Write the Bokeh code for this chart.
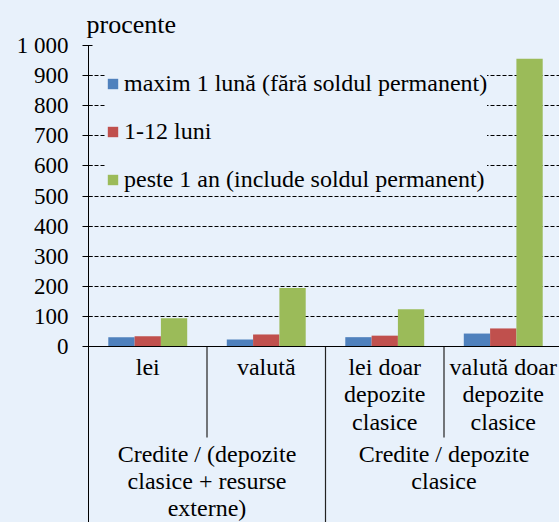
import numpy as np
from bokeh.plotting import figure
from bokeh.models import (Range1d, FixedTicker, Span, Legend, LegendItem,
                          ColumnDataSource, GlobalInlineStyleSheet)
from bokeh.core.properties import value
from bokeh.embed import file_html
from bokeh.resources import INLINE

# ---------------- data ----------------
categories = ["lei", "valută", "lei doar\ndepozite\nclasice", "valută doar\ndepozite\nclasice"]
category_group = [0, 0, 1, 1]
groups = ["Credite / (depozite\nclasice + resurse\nexterne)", "Credite / depozite\nclasice"]
series_names = ["maxim 1 lună (fără soldul permanent)", "1-12 luni",
                "peste 1 an (include soldul permanent)"]
maxim_1_luna = [31, 23, 31, 43]
luni_1_12 = [34, 40, 36, 60]
peste_1_an = [94, 194, 124, 956]
y_ticks = [0, 100, 200, 300, 400, 500, 600, 700, 800, 900, 1000]
y_tick_labels = ["0", "100", "200", "300", "400", "500", "600", "700", "800", "900", "1 000"]
series_colors = ["#4F81BD", "#C0504D", "#9BBB59"]

# ---------------- layout / style ----------------
BG = "#E8F1FB"
FONT = "'Liberation Serif', serif"
W, H = 559, 522
LEFT = 88
FRAME_TOP = 45
ZERO_PX = 346
PX_PER_UNIT = (ZERO_PX - FRAME_TOP) / 1000.0
Y_MIN = -(H - ZERO_PX) / PX_PER_UNIT
CAT_PX = 118.5
X_MAX = (W - LEFT) / CAT_PX


def px_below_zero(px):
    return -px / PX_PER_UNIT


p = figure(width=W, height=H, output_backend="svg", toolbar_location=None,
           x_range=Range1d(0, X_MAX), y_range=Range1d(Y_MIN, 1000),
           x_axis_location=None, min_border_left=LEFT, min_border_right=0,
           min_border_bottom=0, min_border_top=FRAME_TOP)
p.stylesheets = [GlobalInlineStyleSheet(css="body{background-color:%s;}" % BG)]
p.background_fill_color = BG
p.border_fill_color = BG
p.outline_line_color = None

# title
p.title.text = "procente"
p.title.align = "left"
p.title.offset = -2
p.title.standoff = 13
p.title.text_font = FONT
p.title.text_font_size = "26px"
p.title.text_font_style = "normal"
p.title.text_color = "black"

# y axis
yax = p.yaxis[0]
yax.ticker = FixedTicker(ticks=y_ticks)
yax.major_label_overrides = dict(zip(y_ticks, y_tick_labels))
yax.major_label_text_font = FONT
yax.major_label_text_font_size = "23px"
yax.major_label_text_color = "black"
yax.major_tick_out = 6
yax.major_tick_in = 4
yax.major_label_standoff = 14
yax.minor_tick_line_color = None
yax.axis_line_color = "black"
yax.major_tick_line_color = "black"

# grid
p.xgrid.visible = False
p.ygrid.ticker = FixedTicker(ticks=y_ticks[1:])
p.ygrid.grid_line_color = "black"
p.ygrid.grid_line_dash = "4 2"
p.ygrid.grid_line_width = 1

# bars
xc = np.arange(len(categories)) + 0.5
bw = 0.222
offsets = [-bw, 0.0, bw]
renderers = []
for vals, off, col in zip([maxim_1_luna, luni_1_12, peste_1_an], offsets, series_colors):
    src = ColumnDataSource(dict(x=xc + off, top=vals))
    r = p.vbar(x="x", top="top", bottom=0, width=bw, source=src,
               fill_color=col, line_color=None)
    renderers.append(r)

# zero line
p.add_layout(Span(location=0, dimension="width", line_color="black", line_width=1))

# separators below axis
cg = np.array(category_group)
inner = [i for i in range(1, len(categories)) if cg[i] == cg[i - 1]]
outer = [i for i in range(1, len(categories)) if cg[i] != cg[i - 1]]
p.segment(x0=inner, x1=inner, y0=0, y1=px_below_zero(91), line_color="#222222", line_width=1.2)
p.segment(x0=outer, x1=outer, y0=0, y1=Y_MIN, line_color="#222222", line_width=1.2)

# category labels
p.text(x=xc, y=px_below_zero(7), text=categories, text_font=value(FONT),
       text_font_size=value("24px"), text_align="center", text_baseline="top",
       text_line_height=1.06, text_color="black")
gx = [float(np.mean(xc[cg == g])) for g in range(len(groups))]
p.text(x=gx, y=px_below_zero(94), text=groups, text_font=value(FONT),
       text_font_size=value("24px"), text_align="center", text_baseline="top",
       text_line_height=1.04, text_color="black")

# legend
legend = Legend(items=[LegendItem(label=n, renderers=[r]) for n, r in zip(series_names, renderers)],
                location=(18, 329), padding=9, spacing=21, glyph_width=13, glyph_height=13,
                label_height=24, label_standoff=5, margin=0,
                label_text_font=FONT, label_text_font_size="24px", label_text_color="black",
                background_fill_color=BG, background_fill_alpha=1.0, border_line_color=None)
p.add_layout(legend)

open("out.html", "w").write(file_html(p, INLINE))
